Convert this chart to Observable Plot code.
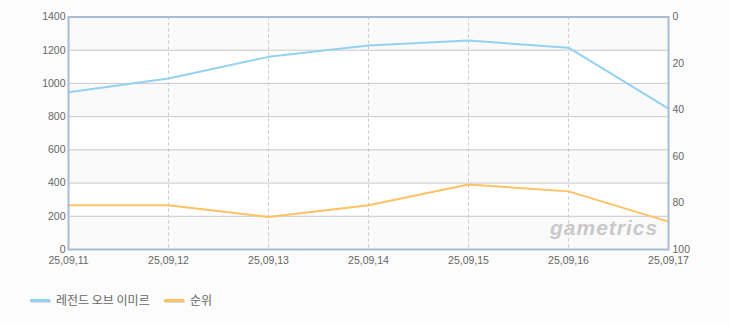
<!DOCTYPE html>
<html><head><meta charset="utf-8">
<script src="https://cdn.jsdelivr.net/npm/d3@7"></script>
<script src="https://cdn.jsdelivr.net/npm/@observablehq/plot@0.6"></script>
<style>
body{margin:0;background:#fcfcfc;}
#wrap{position:relative;width:730px;height:325px;overflow:hidden}
#legend{position:absolute;left:0;top:290px;height:20px;width:730px;font-family:"Noto Sans CJK KR",sans-serif;font-size:12px;color:#666}
.sw{position:absolute;top:9px;width:20px;height:3px;box-shadow:1px 1px 0 #ddd}
.lb{position:absolute;top:0;line-height:20px}
#wm{position:absolute;left:550px;top:216px;line-height:24px;font-family:"Liberation Sans",sans-serif;font-style:italic;font-weight:bold;font-size:21px;color:#c9c9c9;letter-spacing:1px}
</style></head><body><div id="wrap"></div>
<script>
const dates = ["25,09,11","25,09,12","25,09,13","25,09,14","25,09,15","25,09,16","25,09,17"];
const seriesNames = ["레전드 오브 이미르","순위"];
const mainValues = [947,1030,1160,1228,1258,1215,848];
const rankValues = [81,81,86,81,72,75,88];
const leftTicks = [0,200,400,600,800,1000,1200,1400];
const rightTicks = [0,20,40,60,80,100];
const colors = ["#93d2f3","#ffc262"];

const yMax = 1400;
const rankToY = r => yMax * (1 - r / 100);
const yToRank = v => String(Math.round(100 * (1 - v / yMax)));

const mainData = dates.map((d, i) => ({date: d, value: mainValues[i]}));
const rankData = dates.map((d, i) => ({date: d, value: rankToY(rankValues[i])}));
const bands = leftTicks.slice(0, -1).map((t, i) => ({y1: t, y2: leftTicks[i + 1], shade: i % 2 === 0}));

const chart = Plot.plot({
  width: 730,
  height: 275,
  marginLeft: 68,
  marginRight: 62,
  marginTop: 16.5,
  marginBottom: 26,
  style: {background: "transparent", color: "#666", fontFamily: "'Liberation Sans', sans-serif", fontSize: "10.5px"},
  x: {type: "point", domain: dates, padding: 0},
  y: {domain: [0, yMax]},
  marks: [
    Plot.rect(bands, {y1: "y1", y2: "y2", fill: d => d.shade ? "#fafafa" : "#ffffff"}),
    Plot.ruleY(leftTicks.slice(1, -1), {stroke: "#c9c9c9", strokeWidth: 1}),
    Plot.ruleX(dates.slice(1, -1), {stroke: "#c9c9c9", strokeDasharray: "3,3", strokeWidth: 1}),
    Plot.line(mainData, {x: "date", y: "value", stroke: colors[0], strokeWidth: 2}),
    Plot.line(rankData, {x: "date", y: "value", stroke: colors[1], strokeWidth: 2}),
    Plot.frame({stroke: "#abbcd2", strokeWidth: 2}),
    Plot.axisY({anchor: "left", ticks: leftTicks, tickFormat: d => String(d), tickSize: 0, tickPadding: 3, label: null, fill: "#666"}),
    Plot.axisY({anchor: "right", ticks: rightTicks.map(rankToY), tickFormat: yToRank, tickSize: 0, tickPadding: 4, label: null, fill: "#666"}),
    Plot.axisX({ticks: dates, tickSize: 0, tickPadding: 7, label: null, fill: "#666"})
  ]
});

const wrap = document.getElementById("wrap");
wrap.appendChild(chart);

const wm = document.createElement("div");
wm.id = "wm";
wm.textContent = "gametrics";
wrap.appendChild(wm);

const legend = document.createElement("div");
legend.id = "legend";
const pos = [[30, 56], [164, 190]];
seriesNames.forEach((name, i) => {
  const sw = document.createElement("div");
  sw.className = "sw";
  sw.style.left = pos[i][0] + "px";
  sw.style.background = colors[i];
  legend.appendChild(sw);
  const lb = document.createElement("div");
  lb.className = "lb";
  lb.style.left = pos[i][1] + "px";
  lb.textContent = name;
  legend.appendChild(lb);
});
wrap.appendChild(legend);
</script></body></html>
